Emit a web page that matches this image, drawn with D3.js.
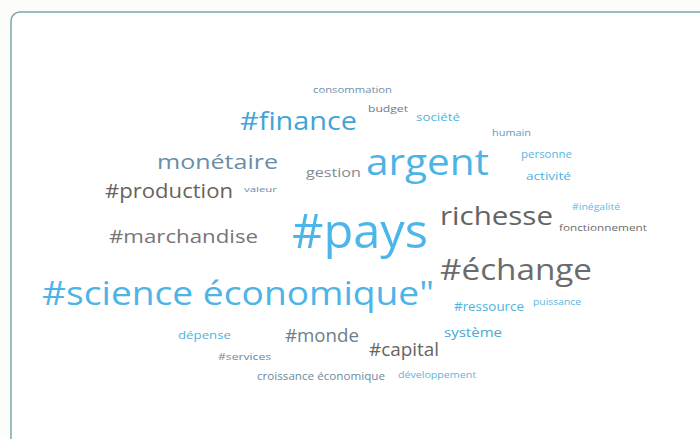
<!DOCTYPE html>
<html>
<head>
<meta charset="utf-8">
<script src="https://cdn.jsdelivr.net/npm/d3@7"></script>
<style>
  body { margin: 0; background: #fcfcfa; }
  svg { display: block; }
  text { font-family: "Open Sans", "Noto Sans", sans-serif; }
</style>
</head>
<body>
<div id="cloud"></div>
<script>
// words and their weights (bigger weight -> bigger word)
var words = ["#pays", "argent", "#science économique\"", "#échange", "richesse", "#finance",
  "monétaire", "#production", "#marchandise", "#monde", "#capital", "gestion", "système",
  "#ressource", "activité", "dépense", "société", "personne", "croissance économique",
  "consommation", "budget", "humain", "puissance", "#inégalité", "fonctionnement",
  "#services", "développement", "valeur"];
var weights = [40, 28, 24, 21, 18, 18, 12, 12, 11, 10, 10, 5, 4, 4, 3, 3, 2, 2, 2,
  1, 1, 1, 1, 1, 1, 1, 1, 0];

// layout of the cloud: left, right, baseline for each word
var layout = [
  [292, 428, 248], [366, 489, 175], [42, 434, 305], [440, 592, 280], [440, 553, 225],
  [240, 357, 130], [157, 278, 169], [105, 233, 198], [109, 258, 243], [285, 359, 342],
  [369, 439, 356], [306, 361, 177], [444, 502, 337], [454, 524, 311], [526, 571, 180],
  [178, 231, 339], [416, 460, 121], [521, 572, 158], [257, 385, 380], [313, 392, 93],
  [368, 408, 112], [492, 531, 136], [533, 581, 305], [572, 620, 210], [559, 647, 231],
  [218, 271, 360], [398, 476, 378], [244, 277, 192]
];

var colors = ["#4cb6ea", "#4cb3e6", "#4db5e5", "#6b6b6b", "#646464", "#41a4d6",
  "#6a8ea6", "#6b625c", "#767676", "#6e7e8a", "#656565", "#7e8b93", "#4aa7d0",
  "#4db3e0", "#4db3e0", "#4db3e0", "#4db5e0", "#5ab5e0", "#6d8a9c",
  "#6d8fa8", "#777777", "#5a9cc0", "#5bb5e0", "#5abde8", "#6b6b6b",
  "#6d8ca0", "#5db5e0", "#6d8fa8"];

var svgWidth = 700;
var svgHeight = 439;

var svg = d3.select("#cloud")
  .append("svg")
  .attr("width", svgWidth)
  .attr("height", svgHeight);

// card outline
svg.append("rect")
  .attr("x", 11)
  .attr("y", 12)
  .attr("width", 720)
  .attr("height", 440)
  .attr("rx", 9)
  .attr("fill", "#ffffff")
  .attr("stroke", "#7aa6ae")
  .attr("stroke-width", 1.5);

// font size from weight
var sizeScale = d3.scaleLinear()
  .domain([0, 40])
  .range([8, 48]);

var data = words.map(function(w, i) {
  return { text: w, weight: weights[i], x0: layout[i][0], x1: layout[i][1], y: layout[i][2], color: colors[i] };
});

svg.append("g")
  .selectAll("text")
  .data(data)
  .enter()
  .append("text")
  .attr("x", d => d.x0)
  .attr("y", d => d.y)
  .attr("font-size", d => sizeScale(d.weight))
  .attr("fill", d => d.color)
  .attr("textLength", d => d.x1 - d.x0)
  .attr("lengthAdjust", "spacingAndGlyphs")
  .text(d => d.text);
</script>
</body>
</html>
